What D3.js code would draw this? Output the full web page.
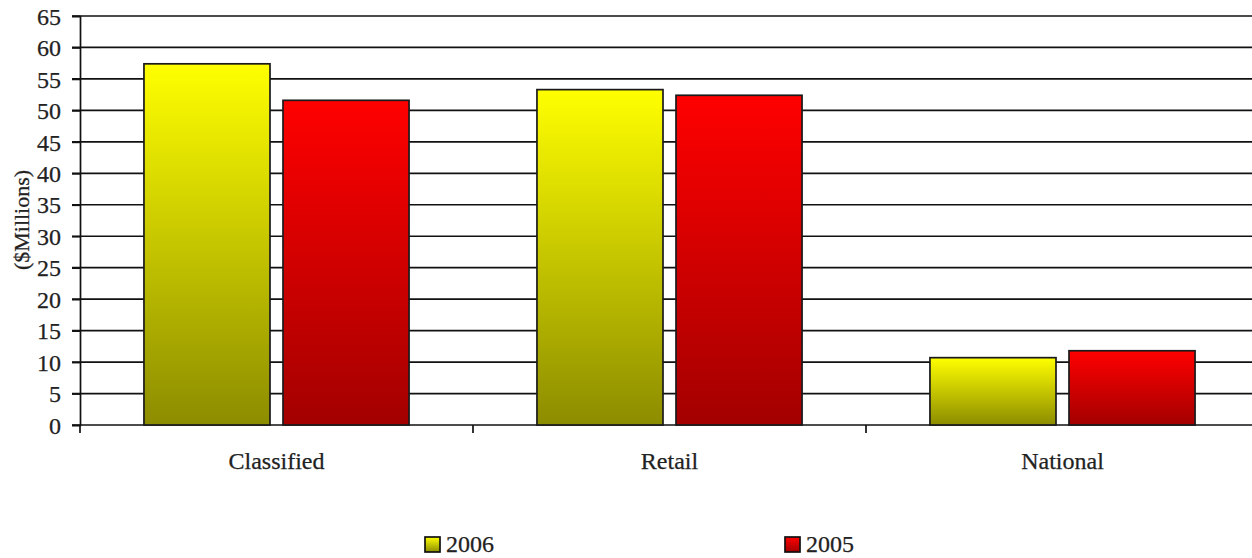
<!DOCTYPE html>
<html>
<head>
<meta charset="utf-8">
<script src="https://cdn.jsdelivr.net/npm/d3@7"></script>
<style>
  html, body { margin: 0; padding: 0; background: #fff; }
  svg { display: block; }
  text { font-family: "Liberation Serif", "Times New Roman", serif; fill: #222; stroke: #222; stroke-width: 0.25; }
</style>
</head>
<body>
<svg id="chart" width="1252" height="558"></svg>
<script>
// Advertising revenue by category ($ millions)
const categories = ["Classified", "Retail", "National"];
const seriesNames = ["2006", "2005"];
const values2006 = [57.4, 53.3, 10.7];
const values2005 = [51.6, 52.4, 11.8];
const yTicks = [0, 5, 10, 15, 20, 25, 30, 35, 40, 45, 50, 55, 60, 65];

const seriesValues = { "2006": values2006, "2005": values2005 };
const colors = {
  "2006": { top: "#ffff00", bottom: "#8c8c00" },
  "2005": { top: "#ff0000", bottom: "#a30000" }
};

const svg = d3.select("#chart");
const plotLeft = 80, plotRight = 1259, plotTop = 16, plotBottom = 425;
const fontSize = 24;

const x = d3.scaleBand().domain(categories).range([plotLeft, plotRight]).paddingInner(0).paddingOuter(0);
const x1 = d3.scaleBand().domain(seriesNames).range([0, x.bandwidth()]).paddingInner(0.0935).paddingOuter(0.46);
const y = d3.scaleLinear().domain([0, 65]).range([plotBottom, plotTop]);

// vertical gradients, one per series
const defs = svg.append("defs");
seriesNames.forEach((s, i) => {
  const g = defs.append("linearGradient")
    .attr("id", "grad" + i).attr("x1", 0).attr("y1", 0).attr("x2", 0).attr("y2", 1);
  g.append("stop").attr("offset", "0%").attr("stop-color", colors[s].top);
  g.append("stop").attr("offset", "100%").attr("stop-color", colors[s].bottom);
});

// horizontal gridlines
svg.append("g").selectAll("line").data(yTicks.filter(d => d > 0)).join("line")
  .attr("x1", plotLeft - 8).attr("x2", 1252)
  .attr("y1", d => y(d)).attr("y2", d => y(d))
  .attr("stroke", "#111").attr("stroke-width", 1.7);

// y axis
const yAxis = d3.axisLeft(y).tickValues(yTicks).tickSize(8).tickPadding(11);
const gy = svg.append("g").attr("transform", `translate(${plotLeft},0)`).call(yAxis);
gy.select(".domain").attr("stroke", "#111").attr("stroke-width", 1.7);
gy.selectAll(".tick line").attr("stroke", "#111").attr("stroke-width", 1.7);
gy.selectAll(".tick text").attr("font-size", fontSize).attr("font-family", "Liberation Serif")
  .attr("fill", "#222").attr("dy", "0.34em");

// x axis baseline and category ticks
svg.append("line").attr("x1", plotLeft - 8).attr("x2", 1252).attr("y1", plotBottom).attr("y2", plotBottom)
  .attr("stroke", "#111").attr("stroke-width", 1.7);
const tickPos = categories.map(c => x(c)).concat([x(categories[categories.length - 1]) + x.bandwidth()]);
svg.append("g").selectAll("line").data(tickPos).join("line")
  .attr("x1", d => d).attr("x2", d => d).attr("y1", plotBottom).attr("y2", plotBottom + 8)
  .attr("stroke", "#111").attr("stroke-width", 1.7);

// category labels
svg.append("g").selectAll("text").data(categories).join("text")
  .attr("x", d => x(d) + x.bandwidth() / 2).attr("y", 469)
  .attr("text-anchor", "middle").attr("font-size", fontSize).text(d => d);

// bars
seriesNames.forEach((s, i) => {
  svg.append("g").selectAll("rect").data(categories).join("rect")
    .attr("x", c => x(c) + x1(s))
    .attr("width", x1.bandwidth())
    .attr("y", (c, j) => y(seriesValues[s][j]))
    .attr("height", (c, j) => y(0) - y(seriesValues[s][j]))
    .attr("fill", `url(#grad${i})`)
    .attr("stroke", "#1a1a1a").attr("stroke-width", 1.7);
});

// y axis title
svg.append("text")
  .attr("transform", "translate(29,220) rotate(-90)")
  .attr("text-anchor", "middle").attr("font-size", 22).text("($Millions)");

// legend
const legendX = [425, 785];
seriesNames.forEach((s, i) => {
  const g = svg.append("g").attr("transform", `translate(${legendX[i]},537)`);
  g.append("rect").attr("width", 15).attr("height", 15)
    .attr("fill", `url(#grad${i})`).attr("stroke", "#111").attr("stroke-width", 1.7);
  g.append("text").attr("x", 21).attr("y", 15).attr("font-size", fontSize).text(s);
});
</script>
</body>
</html>
